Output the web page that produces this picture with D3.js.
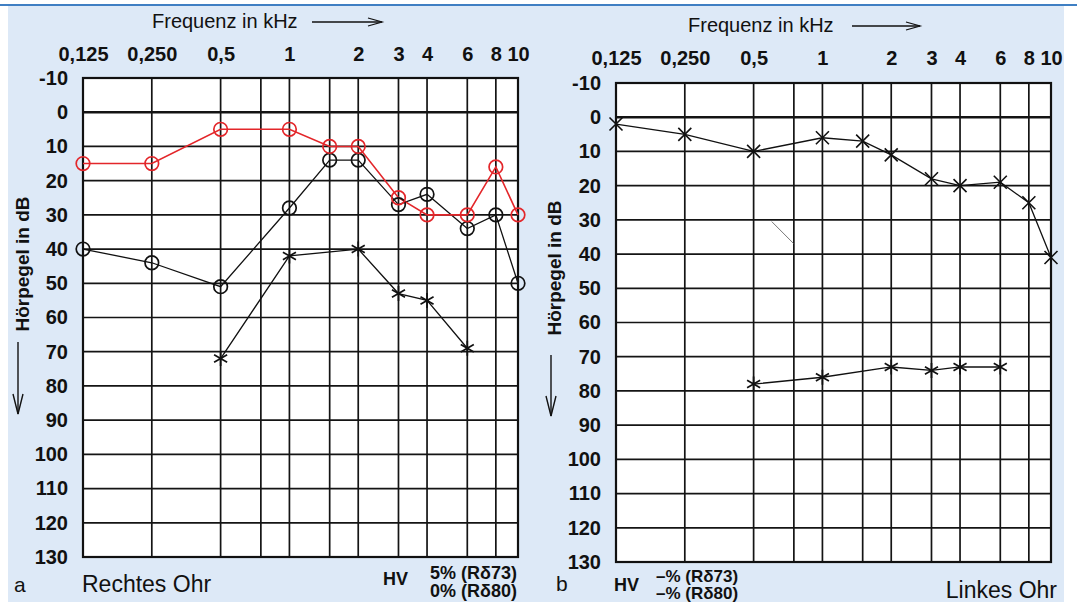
<!DOCTYPE html>
<html>
<head>
<meta charset="utf-8">
<script src="https://cdn.jsdelivr.net/npm/d3@7"></script>
<style>
  html, body { margin: 0; padding: 0; background: #ffffff; }
  svg { display: block; }
  text { font-family: "Liberation Sans", Arial, Helvetica, sans-serif; fill: #111; }
</style>
</head>
<body>
<svg id="chart" width="1077" height="602"></svg>
<script>
// ---------- DATA ----------
const freqTicks = [0.125, 0.25, 0.5, 1, 2, 3, 4, 6, 8, 10];
const freqTickLabels = ["0,125", "0,250", "0,5", "1", "2", "3", "4", "6", "8", "10"];
const gridFreqs = [0.125, 0.25, 0.5, 0.75, 1, 1.5, 2, 3, 4, 6, 8, 10];
const dbTicks = [-10, 0, 10, 20, 30, 40, 50, 60, 70, 80, 90, 100, 110, 120, 130];
const dbTickLabels = ["-10", "0", "10", "20", "30", "40", "50", "60", "70", "80", "90", "100", "110", "120", "130"];

// Panel a: Rechtes Ohr
const rightEarFreqs = [0.125, 0.25, 0.5, 1, 1.5, 2, 3, 4, 6, 8, 10];
const rightEarRed = [15, 15, 5, 5, 10, 10, 25, 30, 30, 16, 30];       // red circles
const rightEarCircles = [40, 44, 51, 28, 14, 14, 27, 24, 34, 30, 50];  // black circles
const rightEarStarFreqs = [0.5, 1, 2, 3, 4, 6];
const rightEarStars = [72, 42, 40, 53, 55, 69];                        // black asterisks

// Panel b: Linkes Ohr
const leftEarFreqs = [0.125, 0.25, 0.5, 1, 1.5, 2, 3, 4, 6, 8, 10];
const leftEarCrosses = [2, 5, 10, 6, 7, 11, 18, 20, 19, 25, 41];       // crosses
const leftEarStarFreqs = [0.5, 1, 2, 3, 4, 6];
const leftEarStars = [78, 76, 73, 74, 73, 73];                         // asterisks
const leftEarStrayFreqs = [0.6, 0.75];                                 // stray scan mark
const leftEarStrayDb = [30.5, 37];

// ---------- DRAWING ----------
const svg = d3.select("#chart");
const RED = "#e3262a";

svg.append("rect").attr("x", 8).attr("y", 5).attr("width", 1056).attr("height", 597).attr("fill", "#dde9f7");
svg.append("line").attr("x1", 0).attr("x2", 1077).attr("y1", 5).attr("y2", 5)
   .attr("stroke", "#3f7fc3").attr("stroke-width", 2);

function panel(cfg) {
  const x = d3.scaleLog().domain([0.125, 10]).range([cfg.x0, cfg.x1]);
  const y = d3.scaleLinear().domain([-10, 130]).range([cfg.y0, cfg.y1]);
  const g = svg.append("g");

  g.append("rect").attr("x", cfg.x0).attr("y", cfg.y0)
    .attr("width", cfg.x1 - cfg.x0).attr("height", cfg.y1 - cfg.y0).attr("fill", "#fff");

  // grid
  g.selectAll("line.v").data(gridFreqs).join("line")
    .attr("x1", d => x(d)).attr("x2", d => x(d)).attr("y1", cfg.y0).attr("y2", cfg.y1)
    .attr("stroke", "#141414").attr("stroke-width", 1.7);
  g.selectAll("line.h").data(dbTicks).join("line")
    .attr("x1", cfg.x0).attr("x2", cfg.x1).attr("y1", d => y(d)).attr("y2", d => y(d))
    .attr("stroke", "#141414").attr("stroke-width", d => d === 0 ? 2.6 : 1.7);
  g.append("rect").attr("x", cfg.x0).attr("y", cfg.y0)
    .attr("width", cfg.x1 - cfg.x0).attr("height", cfg.y1 - cfg.y0)
    .attr("fill", "none").attr("stroke", "#111").attr("stroke-width", 2.2);

  // top axis labels
  const ax = d3.axisTop(x).tickValues(freqTicks)
    .tickFormat((d, i) => freqTickLabels[i]).tickSize(0).tickPadding(0);
  const axg = g.append("g").attr("transform", `translate(0,${cfg.tickY})`).call(ax);
  axg.select(".domain").remove();
  axg.selectAll("text").attr("font-size", 20).attr("font-weight", "bold").attr("fill", "#151515")
    .attr("font-family", "Liberation Sans, Arial, sans-serif").attr("dy", 0);

  // left axis labels
  const ay = d3.axisLeft(y).tickValues(dbTicks)
    .tickFormat((d, i) => dbTickLabels[i]).tickSize(0).tickPadding(0);
  const ayg = g.append("g").attr("transform", `translate(${cfg.labelX},0)`).call(ay);
  ayg.select(".domain").remove();
  ayg.selectAll("text").attr("font-size", 20).attr("font-weight", "bold").attr("fill", "#151515")
    .attr("font-family", "Liberation Sans, Arial, sans-serif");

  // title and arrow
  g.append("text").attr("x", cfg.titleX).attr("y", cfg.titleY).attr("font-size", 20)
    .text("Frequenz in kHz");
  g.append("line").attr("x1", cfg.arrowX0).attr("x2", cfg.arrowX1)
    .attr("y1", cfg.titleY - 6).attr("y2", cfg.titleY - 6).attr("stroke", "#111").attr("stroke-width", 1.3);
  g.append("path").attr("d", `M${cfg.arrowX1 - 14},${cfg.titleY - 10} L${cfg.arrowX1},${cfg.titleY - 6} L${cfg.arrowX1 - 14},${cfg.titleY - 2}`)
    .attr("fill", "none").attr("stroke", "#111").attr("stroke-width", 1.3);

  // vertical label and arrow
  g.append("text").attr("transform", `translate(${cfg.vlabX},${cfg.vlabY}) rotate(-90)`)
    .attr("text-anchor", "middle").attr("font-size", 19).attr("font-weight", "bold")
    .text("Hörpegel in dB");
  g.append("line").attr("x1", cfg.vArrowX).attr("x2", cfg.vArrowX)
    .attr("y1", cfg.vArrowY0).attr("y2", cfg.vArrowY1).attr("stroke", "#111").attr("stroke-width", 1.4);
  g.append("path").attr("d", `M${cfg.vArrowX - 5},${cfg.vArrowY1 - 20} L${cfg.vArrowX},${cfg.vArrowY1} L${cfg.vArrowX + 5},${cfg.vArrowY1 - 20}`)
    .attr("fill", "none").attr("stroke", "#111").attr("stroke-width", 1.4);

  return { g, x, y };
}

function seriesLine(p, freqs, vals, color, width) {
  const line = d3.line().x(d => p.x(d[0])).y(d => p.y(d[1]));
  p.g.append("path").datum(d3.zip(freqs, vals)).attr("d", line)
    .attr("fill", "none").attr("stroke", color).attr("stroke-width", width);
}
function circles(p, freqs, vals, color) {
  p.g.selectAll(null).data(d3.zip(freqs, vals)).join("circle")
    .attr("cx", d => p.x(d[0])).attr("cy", d => p.y(d[1])).attr("r", 6.8)
    .attr("fill", "none").attr("stroke", color).attr("stroke-width", 1.7);
}
function crosses(p, freqs, vals, s) {
  p.g.selectAll(null).data(d3.zip(freqs, vals)).join("path")
    .attr("d", d => {
      const cx = p.x(d[0]), cy = p.y(d[1]);
      return `M${cx - s},${cy - s}L${cx + s},${cy + s}M${cx - s},${cy + s}L${cx + s},${cy - s}`;
    })
    .attr("fill", "none").attr("stroke", "#111").attr("stroke-width", 1.6);
}
function stars(p, freqs, vals, s) {
  p.g.selectAll(null).data(d3.zip(freqs, vals)).join("path")
    .attr("d", d => {
      const cx = p.x(d[0]), cy = p.y(d[1]);
      const dx = s * 0.87, dy = s * 0.5;
      return `M${cx},${cy - s}L${cx},${cy + s}M${cx - dx},${cy - dy}L${cx + dx},${cy + dy}M${cx - dx},${cy + dy}L${cx + dx},${cy - dy}`;
    })
    .attr("fill", "none").attr("stroke", "#111").attr("stroke-width", 1.7);
}

// Panel a
const pa = panel({ x0: 83, x1: 518, y0: 78, y1: 557, tickY: 61, labelX: 68,
  titleX: 152, titleY: 28, arrowX0: 312, arrowX1: 382,
  vlabX: 29, vlabY: 264, vArrowX: 18, vArrowY0: 342, vArrowY1: 414 });
seriesLine(pa, rightEarFreqs, rightEarCircles, "#111", 1.3);
seriesLine(pa, rightEarStarFreqs, rightEarStars, "#111", 1.3);
seriesLine(pa, rightEarFreqs, rightEarRed, RED, 1.6);
circles(pa, rightEarFreqs, rightEarCircles, "#111");
stars(pa, rightEarStarFreqs, rightEarStars, 7.5);
circles(pa, rightEarFreqs, rightEarRed, RED);

// Panel b
const pb = panel({ x0: 616, x1: 1051, y0: 83, y1: 562, tickY: 65, labelX: 601,
  titleX: 688, titleY: 32, arrowX0: 852, arrowX1: 920,
  vlabX: 561, vlabY: 268, vArrowX: 551, vArrowY0: 355, vArrowY1: 416 });
seriesLine(pb, leftEarFreqs, leftEarCrosses, "#111", 1.3);
seriesLine(pb, leftEarStarFreqs, leftEarStars, "#111", 1.3);
crosses(pb, leftEarFreqs, leftEarCrosses, 6.5);
stars(pb, leftEarStarFreqs, leftEarStars, 7.5);
seriesLine(pb, leftEarStrayFreqs, leftEarStrayDb, "#555", 0.8);

// ---------- bottom texts ----------
function txt(x, y, s, size, opts = {}) {
  const t = svg.append("text").attr("x", x).attr("y", y).attr("font-size", size).text(s);
  if (opts.weight) t.attr("font-weight", opts.weight);
  if (opts.anchor) t.attr("text-anchor", opts.anchor);
  return t;
}
txt(14, 592, "a", 21);
txt(82, 592, "Rechtes Ohr", 23);
txt(383, 585, "HV", 18, { weight: "bold" });
txt(430, 579, "5% (Rδ73)", 18, { weight: "bold" });
txt(430, 597, "0% (Rδ80)", 18, { weight: "bold" });

txt(556, 591, "b", 21);
txt(614, 591, "HV", 18, { weight: "bold" });
txt(656, 582, "–% (Rδ73)", 17, { weight: "bold" });
txt(656, 599, "–% (Rδ80)", 17, { weight: "bold" });
txt(1057, 598, "Linkes Ohr", 23, { anchor: "end" });
</script>
</body>
</html>
